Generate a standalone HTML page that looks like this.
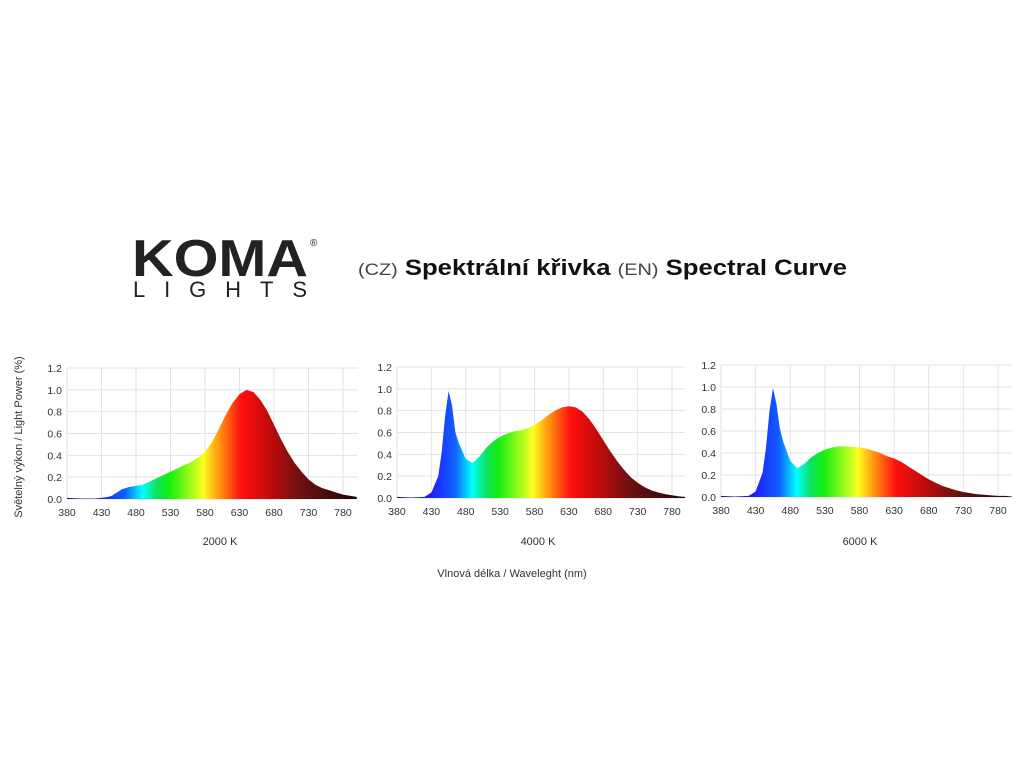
<!DOCTYPE html>
<html><head><meta charset="utf-8"><style>
body{margin:0;background:#fff;width:1024px;height:768px;overflow:hidden;font-family:"Liberation Sans","DejaVu Sans",sans-serif}
</style></head><body>
<svg id="svg" width="1024" height="768" viewBox="0 0 1024 768">
<defs></defs>
<g>
<text x="132" y="276" font-size="52" font-weight="bold" fill="#222" textLength="176" lengthAdjust="spacingAndGlyphs">KOMA</text>
<text x="310" y="246" font-size="10" fill="#222">®</text>
<text x="133" y="297" font-size="22" fill="#222" textLength="174" lengthAdjust="spacing">LIGHTS</text>
</g>
<text x="358" y="275" font-size="22" fill="#111" textLength="489" lengthAdjust="spacingAndGlyphs"><tspan font-size="17" fill="#444">(CZ)</tspan><tspan font-weight="bold"> Spektrální křivka </tspan><tspan font-size="17" fill="#444">(EN)</tspan><tspan font-weight="bold"> Spectral Curve</tspan></text>
<text transform="translate(22,437) rotate(-90)" text-anchor="middle" font-size="11" fill="#333">Světelný výkon / Light Power (%)</text>
<text x="512" y="577" text-anchor="middle" font-size="11" fill="#333">Vlnová délka / Waveleght (nm)</text>
<g id="charts"></g>
</svg>
<script>
const wavelengths=[380,400,420,430,440,445,450,455,460,465,470,480,490,500,510,520,530,540,550,560,570,580,590,600,610,620,630,640,650,660,670,680,690,700,710,720,730,740,750,760,770,780,790,800];
const series2000=[.01,.005,.005,.01,.02,.03,.05,.07,.09,.1,.11,.12,.13,.16,.19,.22,.25,.28,.31,.34,.38,.43,.52,.64,.77,.88,.96,1.0,.98,.91,.81,.68,.55,.43,.33,.25,.18,.13,.1,.08,.06,.04,.03,.02];
const series4000=[.01,.005,.01,.05,.2,.42,.75,.98,.85,.6,.5,.36,.32,.38,.46,.52,.56,.59,.61,.62,.64,.67,.71,.76,.8,.83,.84,.83,.79,.72,.63,.53,.43,.34,.26,.19,.14,.1,.07,.05,.035,.025,.015,.01];
const series6000=[.01,.005,.01,.05,.22,.45,.78,.99,.85,.62,.5,.33,.26,.3,.36,.4,.43,.45,.46,.46,.455,.45,.44,.42,.4,.37,.35,.32,.28,.24,.2,.16,.13,.1,.08,.06,.045,.035,.025,.02,.015,.01,.01,.005];
const xTicks=[380,430,480,530,580,630,680,730,780];
const yTicks=[0,0.2,0.4,0.6,0.8,1.0,1.2];
const chartLabels=["2000 K","4000 K","6000 K"];
const NS="http://www.w3.org/2000/svg";
const layouts=[{x380:67,ppn:0.69,right:358,y0:499,y12:368,lx:220},{x380:397,ppn:0.6875,right:685,y0:498,y12:367,lx:538},{x380:721,ppn:0.6925,right:1012,y0:497,y12:365,lx:860}];
const allSeries=[series2000,series4000,series6000];
const root=document.getElementById('charts');
function mk(t,a,p){const e=document.createElementNS(NS,t);for(const k in a)e.setAttribute(k,a[k]);p.appendChild(e);return e;}
layouts.forEach((L,ci)=>{
  const xs=w=>L.x380+(w-380)*L.ppn;
  const ys=v=>L.y0-(v/1.2)*(L.y0-L.y12);
  const g=mk('g',{},root);
  
  
  yTicks.forEach(t=>{
    const l=mk('line',{x1:L.x380,x2:L.right,y1:ys(t),y2:ys(t),stroke:'#e2e2e2','stroke-width':1},g);
    
    
    const tx=mk('text',{x:L.x380-5,y:ys(t)+4,'text-anchor':'end','font-size':10.5,fill:'#333'},g);
    tx.textContent=t.toFixed(1);
    
    
  });
  xTicks.forEach(t=>{
    const l=mk('line',{x1:xs(t),x2:xs(t),y1:L.y12,y2:L.y0,stroke:'#e2e2e2','stroke-width':1},g);
    
    
    const tx=mk('text',{x:xs(t),y:L.y0+17,'text-anchor':'middle','font-size':10.5,fill:'#333'},g);
    tx.textContent=t;
    
    
  });
  const s=allSeries[ci];
  const xmax=380+(L.right-L.x380)/L.ppn;
  let d='M'+xs(380)+','+ys(0);
  wavelengths.forEach((w,i)=>{const ww=Math.min(w,xmax);d+=' L'+xs(ww)+','+ys(s[i]);});
  d+=' L'+xs(Math.min(800,xmax))+','+ys(0)+' Z';
  const gid='grad'+ci;
  const lg=mk('linearGradient',{id:gid,x1:xs(380),x2:xs(800),y1:0,y2:0,gradientUnits:'userSpaceOnUse'},document.querySelector('defs'));
  ['#2a1060','#2020ff','#1060ff','#00ffff','#10e060','#10ee10','#ccff20','#ffff20','#ffa010','#ff1010','#c00a0a','#701010','#1a0a0a'].forEach((c,k)=>{
    const off=[0,0.12,0.2,0.26,0.31,0.35,0.45,0.47,0.52,0.6,0.7,0.8,1][k];
    mk('stop',{offset:off,'stop-color':c},lg);
  });
  const p=mk('path',{d:d,fill:'url(#'+gid+')',stroke:'none'},g);
  
  
  const lab=mk('text',{x:L.lx,y:545,'text-anchor':'middle','font-size':11,fill:'#333'},g);
  lab.textContent=chartLabels[ci];
  
  
});
</script>
</body></html>
